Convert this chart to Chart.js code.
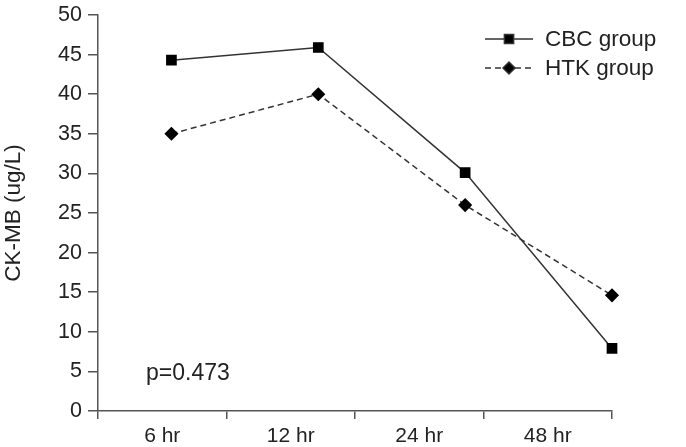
<!DOCTYPE html>
<html>
<head>
<meta charset="utf-8">
<script src="https://cdn.jsdelivr.net/npm/chart.js@4/dist/chart.umd.min.js"></script>
<style>
  html, body { margin: 0; padding: 0; background: #fff; }
  #wrap { width: 686px; height: 447px; }
</style>
</head>
<body>
<div id="wrap"><canvas id="chart"></canvas></div>
<script>
// data
const timeLabels = ['6 hr', '12 hr', '24 hr', '48 hr'];
const cbcValues = [44.3, 45.9, 30.1, 7.9];
const htkValues = [35.0, 40.0, 26.0, 14.6];
const yTicks = { min: 0, max: 50, step: 5 };
const pValueText = 'p=0.473';

const FONT = '"Liberation Sans", Arial, sans-serif';
const INK = '#222';
const AXIS = '#555';

// points sit a bit right of the category labels in the original,
// so the lines use their own hidden linear x axis
function toPoints(vals) {
    return vals.map((v, i) => ({ x: i, y: v }));
}

// legend with line + marker, like the original
const lineLegend = {
    id: 'lineLegend',
    afterDraw(chart) {
        const ctx = chart.ctx;
        const rows = [39, 68];
        chart.data.datasets.forEach((ds, i) => {
            const y = rows[i];
            ctx.save();
            ctx.strokeStyle = ds.borderColor;
            ctx.lineWidth = ds.borderWidth;
            ctx.setLineDash(ds.borderDash || []);
            ctx.beginPath();
            ctx.moveTo(485, y);
            ctx.lineTo(533, y);
            ctx.stroke();
            ctx.setLineDash([]);
            Chart.helpers.drawPoint(ctx, {
                pointStyle: ds.pointStyle,
                radius: ds.pointRadius,
                borderWidth: 1
            }, 509, y);
            ctx.fillStyle = INK;
            ctx.font = '22.5px ' + FONT;
            ctx.textBaseline = 'middle';
            ctx.fillText(ds.label, 545, y + 1);
            ctx.restore();
        });
    }
};

const pLabel = {
    id: 'pLabel',
    afterDraw(chart) {
        const ctx = chart.ctx;
        const y = chart.scales.y.getPixelForValue(5);
        ctx.save();
        ctx.fillStyle = INK;
        ctx.font = '23px ' + FONT;
        ctx.textBaseline = 'middle';
        ctx.fillText(pValueText, chart.chartArea.left + 48, y + 2);
        ctx.restore();
    }
};

new Chart(document.getElementById('chart'), {
    type: 'line',
    data: {
        labels: timeLabels,
        datasets: [{
            label: 'CBC group',
            data: toPoints(cbcValues),
            xAxisID: 'xd',
            borderColor: '#333',
            borderWidth: 1.5,
            pointStyle: 'rect',
            pointRadius: 6.5,
            pointBackgroundColor: '#000',
            pointBorderColor: '#000',
            tension: 0,
            clip: false
        }, {
            label: 'HTK group',
            data: toPoints(htkValues),
            xAxisID: 'xd',
            borderColor: '#333',
            borderWidth: 1.5,
            borderDash: [6, 4],
            pointStyle: 'rectRot',
            pointRadius: 6,
            pointBackgroundColor: '#000',
            pointBorderColor: '#000',
            tension: 0,
            clip: false
        }]
    },
    options: {
        responsive: true,
        maintainAspectRatio: false,
        animation: false,
        devicePixelRatio: 1,
        layout: { padding: { left: 0, right: 74, top: 15, bottom: 0 } },
        plugins: {
            legend: { display: false },
            tooltip: { enabled: false }
        },
        scales: {
            x: {
                type: 'category',
                offset: true,
                grid: {
                    drawOnChartArea: false,
                    offset: true,
                    tickLength: 8,
                    color: AXIS,
                    lineWidth: 1.5
                },
                border: { color: AXIS, width: 1.5 },
                ticks: { color: INK, padding: 5, font: { family: FONT, size: 21 } },
                afterFit(s) { s.height = 36; s.paddingLeft = 0; s.paddingRight = 0; }
            },
            xd: {
                type: 'linear',
                display: false,
                min: -0.5,
                max: 3
            },
            y: {
                min: yTicks.min,
                max: yTicks.max,
                grid: {
                    drawOnChartArea: false,
                    tickLength: 10,
                    color: AXIS,
                    lineWidth: 1.5
                },
                border: { color: AXIS, width: 1.5 },
                ticks: {
                    stepSize: yTicks.step,
                    color: INK,
                    padding: 6,
                    font: { family: FONT, size: 21.5 }
                },
                title: {
                    display: true,
                    text: 'CK-MB (ug/L)',
                    color: INK,
                    font: { family: FONT, size: 22.5 },
                    padding: 0
                },
                afterFit(s) { s.width = 98; s.paddingTop = 0; s.paddingBottom = 0; }
            }
        }
    },
    plugins: [lineLegend, pLabel]
});
</script>
</body>
</html>
